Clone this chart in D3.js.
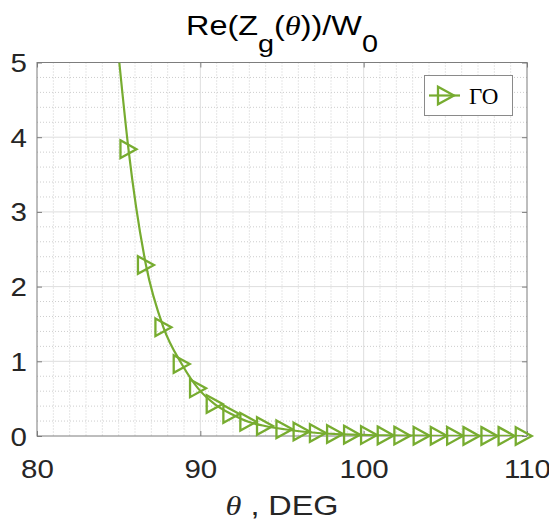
<!DOCTYPE html>
<html>
<head>
<meta charset="utf-8">
<script src="https://cdn.jsdelivr.net/npm/d3@7"></script>
<style>
  html, body { margin: 0; padding: 0; background: #ffffff; }
  svg { display: block; }
</style>
</head>
<body>
<svg id="chart" width="549" height="526"></svg>
<script>
// Re(Zg(θ))/W0 versus incidence angle θ (degrees), geometric-optics result "ГО"
const markTheta = [85.6, 86.67, 87.74, 88.86, 89.86, 90.88, 91.9, 92.94, 93.96, 95.15,
                   96.2, 97.2, 98.25, 99.29, 100.33, 101.35, 102.37, 103.55, 104.6,
                   105.6, 106.6, 107.7, 108.75, 109.8];
const markRe    = [3.84, 2.29, 1.455, 0.964, 0.638, 0.428, 0.294, 0.19, 0.134, 0.09,
                   0.06, 0.04, 0.027, 0.018, 0.012, 0.008, 0.005, 0.004, 0.003,
                   0.002, 0.001, 0.001, 0.001, 0.0];
// curve enters the plot at the top edge
const topTheta = [85.04];
const topRe    = [5.0];

const xTickVals = [80, 90, 100, 110];
const yTickVals = [0, 1, 2, 3, 4, 5];
const xMinorVals = d3.range(81, 110).filter(v => v % 10 !== 0);
const yMinorVals = d3.range(1, 25).map(i => i * 0.2).filter(v => Math.abs(v - Math.round(v)) > 1e-6);

const seriesName = "ГО";
const lineColor = "#77ac30";

const svg = d3.select("#chart");
const L = 37, R = 527, T = 62.5, B = 436;

const x = d3.scaleLinear().domain([80, 110]).range([L, R]);
const y = d3.scaleLinear().domain([0, 5]).range([B, T]);

const font = "'Liberation Sans', Arial, Helvetica, sans-serif";
const serif = "'Liberation Serif', 'Times New Roman', serif";
const WIDEN = 1.18;   // labels are set slightly wide

// stretch a text element horizontally by k, keeping its anchor
function widen(k) {
  return function () {
    const w = this.getComputedTextLength();
    d3.select(this).attr("textLength", w * k).attr("lengthAdjust", "spacingAndGlyphs");
  };
}

// minor grid (dotted)
const grid = svg.append("g");
grid.selectAll("line.mx").data(xMinorVals).join("line")
  .attr("x1", d => x(d)).attr("x2", d => x(d)).attr("y1", T).attr("y2", B)
  .attr("stroke", "#cdcdcd").attr("stroke-width", 1).attr("stroke-dasharray", "1,2");
grid.selectAll("line.my").data(yMinorVals).join("line")
  .attr("y1", d => y(d)).attr("y2", d => y(d)).attr("x1", L).attr("x2", R)
  .attr("stroke", "#cdcdcd").attr("stroke-width", 1).attr("stroke-dasharray", "1,2");
// major grid (solid)
grid.selectAll("line.gx").data(xTickVals.slice(1, -1)).join("line")
  .attr("x1", d => x(d)).attr("x2", d => x(d)).attr("y1", T).attr("y2", B)
  .attr("stroke", "#dedede").attr("stroke-width", 1);
grid.selectAll("line.gy").data(yTickVals.slice(1, -1)).join("line")
  .attr("y1", d => y(d)).attr("y2", d => y(d)).attr("x1", L).attr("x2", R)
  .attr("stroke", "#dedede").attr("stroke-width", 1);

// axes with inward ticks on all four sides
const axisColor = "#7d7d7d";
function styleAxis(g) {
  g.select(".domain").remove();
  g.selectAll(".tick line").attr("stroke", axisColor).attr("stroke-width", 1);
  g.selectAll(".tick text").attr("fill", "#262626").attr("font-family", font).attr("font-size", 25);
}
svg.append("g").attr("transform", `translate(0,${B})`)
  .call(d3.axisBottom(x).tickValues(xTickVals).tickFormat(d3.format("d"))
        .tickSizeInner(-5).tickSizeOuter(0).tickPadding(24))
  .call(styleAxis)
  .selectAll(".tick text").attr("dy", "0.72em").each(widen(WIDEN));
svg.append("g").attr("transform", `translate(0,${T})`)
  .call(d3.axisTop(x).tickValues(xTickVals).tickSizeInner(-5).tickSizeOuter(0).tickFormat(""))
  .call(styleAxis);
svg.append("g").attr("transform", `translate(${L},0)`)
  .call(d3.axisLeft(y).tickValues(yTickVals).tickFormat(d3.format("d"))
        .tickSizeInner(-5).tickSizeOuter(0).tickPadding(10))
  .call(styleAxis)
  .selectAll(".tick text").attr("dy", "0.36em").each(widen(WIDEN));
svg.append("g").attr("transform", `translate(${R},0)`)
  .call(d3.axisRight(y).tickValues(yTickVals).tickSizeInner(-5).tickSizeOuter(0).tickFormat(""))
  .call(styleAxis);

svg.append("rect").attr("x", L).attr("y", T).attr("width", R - L).attr("height", B - T)
  .attr("fill", "none").attr("stroke", axisColor).attr("stroke-width", 1);

// curve, clipped to the axes box
svg.append("clipPath").attr("id", "plotClip")
  .append("rect").attr("x", L).attr("y", T).attr("width", R - L).attr("height", B - T);

const curvePts = topTheta.map((t, i) => [t, topRe[i]])
  .concat(markTheta.map((t, i) => [t, markRe[i]]));
const line = d3.line().x(d => x(d[0])).y(d => y(d[1])).curve(d3.curveMonotoneX);
svg.append("path").datum(curvePts)
  .attr("clip-path", "url(#plotClip)")
  .attr("d", line).attr("fill", "none")
  .attr("stroke", lineColor).attr("stroke-width", 2.2);

// right-pointing triangle markers
const tri = "M-8,-8.8L8,0L-8,8.8Z";
svg.append("g").selectAll("path").data(markTheta.map((t, i) => [t, markRe[i]])).join("path")
  .attr("transform", d => `translate(${x(d[0])},${y(d[1])})`)
  .attr("d", tri).attr("fill", "none")
  .attr("stroke", lineColor).attr("stroke-width", 2.3).attr("stroke-linejoin", "miter");

// title with subscripts
const title = svg.append("g").attr("transform", `translate(${(L + R) / 2},35) scale(${WIDEN + 0.02},1)`)
  .append("text").attr("x", 0).attr("y", 0)
  .attr("text-anchor", "middle").attr("font-family", font).attr("font-size", 27).attr("fill", "#000");
title.append("tspan").text("Re(Z");
title.append("tspan").attr("font-size", 24).attr("dy", 17).text("g");
title.append("tspan").attr("dy", -17).text("(");
title.append("tspan").attr("font-family", serif).attr("font-style", "italic").text("θ");
title.append("tspan").text("))/W");
title.append("tspan").attr("font-size", 24).attr("dy", 17).text("0");

// x-axis label
const xl = svg.append("g").attr("transform", `translate(${(L + R) / 2},515) scale(${WIDEN + 0.02},1)`)
  .append("text").attr("x", 0).attr("y", 0)
  .attr("text-anchor", "middle").attr("font-family", font).attr("font-size", 27).attr("fill", "#262626");
xl.append("tspan").attr("font-family", serif).attr("font-style", "italic").text("θ");
xl.append("tspan").text(" , DEG");

// legend
const lg = svg.append("g");
lg.append("rect").attr("x", 424.5).attr("y", 75.5).attr("width", 88).attr("height", 40)
  .attr("fill", "#fff").attr("stroke", "#8a8a8a").attr("stroke-width", 1);
lg.append("line").attr("x1", 429).attr("x2", 460).attr("y1", 95.5).attr("y2", 95.5)
  .attr("stroke", lineColor).attr("stroke-width", 2.2);
lg.append("path").attr("transform", "translate(446,95.5)").attr("d", tri)
  .attr("fill", "none").attr("stroke", lineColor).attr("stroke-width", 2.3);
lg.append("text").attr("x", 469).attr("y", 104).attr("font-family", serif)
  .attr("font-size", 23).attr("fill", "#000").text(seriesName);
</script>
</body>
</html>
